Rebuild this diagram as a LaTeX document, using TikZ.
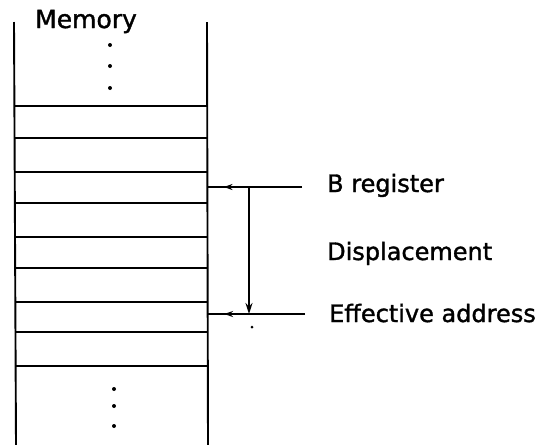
\documentclass[tikz,border=0pt]{standalone}
\usepackage{fontspec}
\setmainfont{DejaVu Sans}
\newfontfamily\lblfont{DejaVu Sans}[FakeBold=1.4]
\usetikzlibrary{arrows.meta,decorations.markings}
\tikzset{
  lbl/.style={anchor=base west,inner sep=0pt,font=\lblfont\fontsize{24}{28}\selectfont},
  wall/.style={line width=1.9pt},
  cell/.style={line width=2.7pt},
  conn/.style={line width=1.7pt},
  midarrow/.style={postaction={decorate},decoration={markings,mark=at position #1 with {\arrow{Stealth[length=9pt,width=6pt]}}}},
  vdot/.style={circle,fill=black,inner sep=0pt,minimum size=4pt}
}
\begin{document}
\begin{tikzpicture}[x=1pt,y=-1pt]
\useasboundingbox (0,0) rectangle (547,445);
% walls
\coordinate (lt) at (14,22); \coordinate (lb) at (16,445);
\coordinate (rt) at (207,22); \coordinate (rb) at (208,445);
\draw[wall] (lt) -- (lb);
\draw[wall] (rt) -- (rb);
% cells
\foreach \y in {106,138,172,203,237,268,302,332,366}{
  \draw[cell] (15,\y) -- (207.5,\y);
}
% dots
\foreach \y [count=\i] in {45,66,88}{ \node[vdot] (dt\i) at (110,\y) {}; }
\foreach \y [count=\i] in {389,406,426}{ \node[vdot] (db\i) at (114,\y) {}; }
% labels
\node[lbl,font=\lblfont\fontsize{25}{28}\selectfont] (mem) at (35,28) {Memory};
\node[lbl] (breg) at (327,192) {B register};
\node[lbl] (disp) at (327,260) {Displacement};
\node[lbl] (eff) at (329,322) {Effective address};
% connectors
\coordinate (bw) at (207.5,187); \coordinate (be) at (302,187);
\coordinate (ew) at (207.5,314); \coordinate (ee) at (305,314);
\coordinate (vt) at (249,187); \coordinate (vb) at (249,314);
\draw[conn,midarrow=0.83] (be) -- (bw);
\draw[conn,midarrow=0.83] (ee) -- (ew);
\draw[conn,-{Stealth[length=11pt,width=7pt]}] (vt) -- (249,306) -- (vb);
\node[circle,fill=black,inner sep=0pt,minimum size=3pt] (spk) at (252,327) {};
\end{tikzpicture}
\end{document}
